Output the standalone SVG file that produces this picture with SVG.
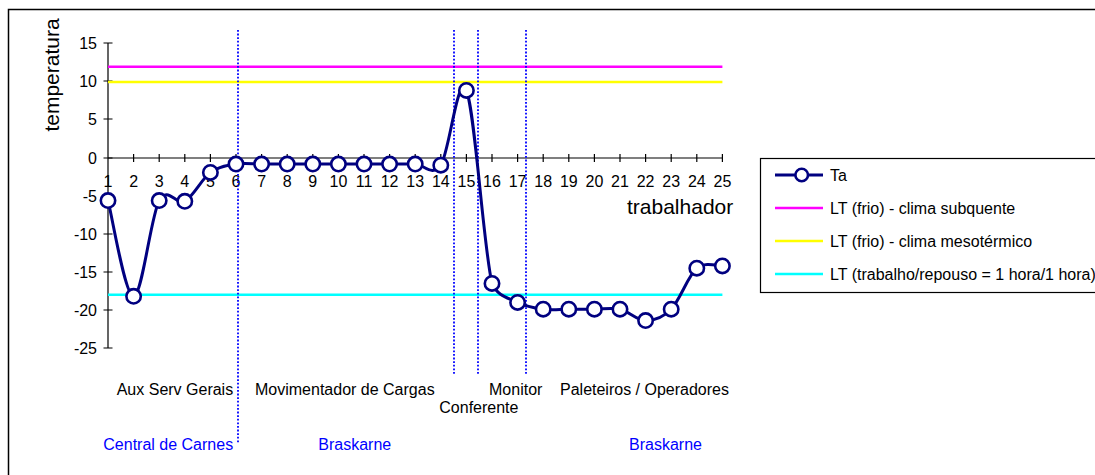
<svg xmlns="http://www.w3.org/2000/svg" width="1095" height="475" viewBox="0 0 1095 475">
<style>
text{font-family:"Liberation Sans",Arial,sans-serif;font-size:16px;fill:#000}
.title{font-size:21px}
.blue{fill:#0000FF}
.ylab{text-anchor:end}
.xlab{text-anchor:middle}
.axis{stroke:#000;stroke-width:1.2;fill:none}
.vdot{stroke:#0000FF;stroke-width:1.8;stroke-dasharray:1.8 1.8;fill:none}
.series{stroke:#000080;stroke-width:3;fill:none;stroke-linejoin:round}
.mk{fill:#fff;stroke:#000080;stroke-width:2.6}
</style>
<rect x="8.5" y="9.5" width="1100" height="480" fill="#fff" stroke="#000" stroke-width="1.5"/>
<g id="axes">
<path class="axis" d="M108,43V348M108,158H722.4"/>
<path class="axis" d="M103.5,43H112.5M103.5,81H112.5M103.5,119H112.5M103.5,158H112.5M103.5,196H112.5M103.5,234H112.5M103.5,272H112.5M103.5,310H112.5M103.5,348H112.5"/>
<path class="axis" d="M133.6,154V162M159.2,154V162M184.8,154V162M210.4,154V162M236,154V162M261.6,154V162M287.2,154V162M312.8,154V162M338.4,154V162M364,154V162M389.6,154V162M415.2,154V162M440.8,154V162M466.4,154V162M492,154V162M517.6,154V162M543.2,154V162M568.8,154V162M594.4,154V162M620,154V162M645.6,154V162M671.2,154V162M696.8,154V162M722.4,154V162"/>
<g id="ylabels">
<text class="ylab" x="97" y="48.5">15</text>
<text class="ylab" x="97" y="86.5">10</text>
<text class="ylab" x="97" y="124.5">5</text>
<text class="ylab" x="97" y="163.5">0</text>
<text class="ylab" x="97" y="201.5">-5</text>
<text class="ylab" x="97" y="239.5">-10</text>
<text class="ylab" x="97" y="277.5">-15</text>
<text class="ylab" x="97" y="315.5">-20</text>
<text class="ylab" x="97" y="353.5">-25</text>
</g>
<g id="xlabels">
<text class="xlab" x="108" y="187">1</text>
<text class="xlab" x="133.6" y="187">2</text>
<text class="xlab" x="159.2" y="187">3</text>
<text class="xlab" x="184.8" y="187">4</text>
<text class="xlab" x="210.4" y="187">5</text>
<text class="xlab" x="236" y="187">6</text>
<text class="xlab" x="261.6" y="187">7</text>
<text class="xlab" x="287.2" y="187">8</text>
<text class="xlab" x="312.8" y="187">9</text>
<text class="xlab" x="338.4" y="187">10</text>
<text class="xlab" x="364" y="187">11</text>
<text class="xlab" x="389.6" y="187">12</text>
<text class="xlab" x="415.2" y="187">13</text>
<text class="xlab" x="440.8" y="187">14</text>
<text class="xlab" x="466.4" y="187">15</text>
<text class="xlab" x="492" y="187">16</text>
<text class="xlab" x="517.6" y="187">17</text>
<text class="xlab" x="543.2" y="187">18</text>
<text class="xlab" x="568.8" y="187">19</text>
<text class="xlab" x="594.4" y="187">20</text>
<text class="xlab" x="620" y="187">21</text>
<text class="xlab" x="645.6" y="187">22</text>
<text class="xlab" x="671.2" y="187">23</text>
<text class="xlab" x="696.8" y="187">24</text>
<text class="xlab" x="722.4" y="187">25</text>
</g>
<text class="title" transform="translate(59,75) rotate(-90)" text-anchor="middle">temperatura</text>
<text class="title" x="627" y="214">trabalhador</text>
</g>
<g id="limits">
<path d="M108,66.8H722.4" stroke="#FF00FF" stroke-width="2.5"/>
<path d="M108,82H722.4" stroke="#FFFF00" stroke-width="2.5"/>
<path d="M108,294.8H722.4" stroke="#00FFFF" stroke-width="2.5"/>
</g>
<g id="dividers">
<path class="vdot" d="M238,30V443"/>
<path class="vdot" d="M454,30V374"/>
<path class="vdot" d="M478,30V374"/>
<path class="vdot" d="M526,30V374"/>
</g>
<g id="series-Ta">
<path class="series" d="M108,200.6C112.27,216.55 125.07,296.3 133.6,296.3C142.13,296.3 150.67,216.43 159.2,200.6C167.73,184.77 176.27,206 184.8,201.3C193.33,196.6 201.87,178.6 210.4,172.4C218.93,166.2 227.47,165.48 236,164.1C244.53,162.72 253.07,164.1 261.6,164.1L415.2,164.1C423.73,164.28 432.27,177.48 440.8,165.2C449.33,152.92 457.87,70.7 466.4,90.4C474.93,110.1 483.47,248.07 492,283.4C497,296 509.07,298.1 517.6,302.4C526.13,306.7 534.67,308.07 543.2,309.2C551.73,310.33 560.27,309.2 568.8,309.2L594.4,309.2C602.93,309.2 611.47,307.3 620,309.2C628.53,311.1 637.07,320.6 645.6,320.6C654.13,320.6 662.67,317.93 671.2,309.2C679.73,300.47 688.27,275.42 696.8,268.2C705.33,260.98 718.13,266.28 722.4,265.9"/>
<circle class="mk" cx="108" cy="200.6" r="7.2"/>
<circle class="mk" cx="133.6" cy="296.3" r="7.2"/>
<circle class="mk" cx="159.2" cy="200.6" r="7.2"/>
<circle class="mk" cx="184.8" cy="201.3" r="7.2"/>
<circle class="mk" cx="210.4" cy="172.4" r="7.2"/>
<circle class="mk" cx="236" cy="164.1" r="7.2"/>
<circle class="mk" cx="261.6" cy="164.1" r="7.2"/>
<circle class="mk" cx="287.2" cy="164.1" r="7.2"/>
<circle class="mk" cx="312.8" cy="164.1" r="7.2"/>
<circle class="mk" cx="338.4" cy="164.1" r="7.2"/>
<circle class="mk" cx="364" cy="164.1" r="7.2"/>
<circle class="mk" cx="389.6" cy="164.1" r="7.2"/>
<circle class="mk" cx="415.2" cy="164.1" r="7.2"/>
<circle class="mk" cx="440.8" cy="165.2" r="7.2"/>
<circle class="mk" cx="466.4" cy="90.4" r="7.2"/>
<circle class="mk" cx="492" cy="283.4" r="7.2"/>
<circle class="mk" cx="517.6" cy="302.4" r="7.2"/>
<circle class="mk" cx="543.2" cy="309.2" r="7.2"/>
<circle class="mk" cx="568.8" cy="309.2" r="7.2"/>
<circle class="mk" cx="594.4" cy="309.2" r="7.2"/>
<circle class="mk" cx="620" cy="309.2" r="7.2"/>
<circle class="mk" cx="645.6" cy="320.6" r="7.2"/>
<circle class="mk" cx="671.2" cy="309.2" r="7.2"/>
<circle class="mk" cx="696.8" cy="268.2" r="7.2"/>
<circle class="mk" cx="722.4" cy="265.9" r="7.2"/>
</g>
<g id="legend">
<rect x="760.5" y="158.5" width="340" height="134" fill="#fff" stroke="#000" stroke-width="1.2"/>
<path d="M775,175H823" class="series" stroke-width="2.5"/>
<circle class="mk" cx="801.7" cy="175" r="6.3"/>
<text x="830" y="180.5">Ta</text>
<path d="M775,208H823" stroke="#FF00FF" stroke-width="2.5"/>
<text x="830" y="213.5">LT (frio) - clima subquente</text>
<path d="M775,241H823" stroke="#FFFF00" stroke-width="2.5"/>
<text x="830" y="246.5">LT (frio) - clima mesotérmico</text>
<path d="M775,274H823" stroke="#00FFFF" stroke-width="2.5"/>
<text x="830" y="279.5">LT (trabalho/repouso = 1 hora/1 hora)</text>
</g>
<g id="labels">
<text x="116.7" y="395">Aux Serv Gerais</text>
<text x="255" y="395">Movimentador de Cargas</text>
<text x="489" y="395">Monitor</text>
<text x="439.3" y="413">Conferente</text>
<text x="560" y="395">Paleteiros / Operadores</text>
<text class="blue" x="103.3" y="450">Central de Carnes</text>
<text class="blue" x="318.3" y="450">Braskarne</text>
<text class="blue" x="629" y="450">Braskarne</text>
</g>
</svg>
